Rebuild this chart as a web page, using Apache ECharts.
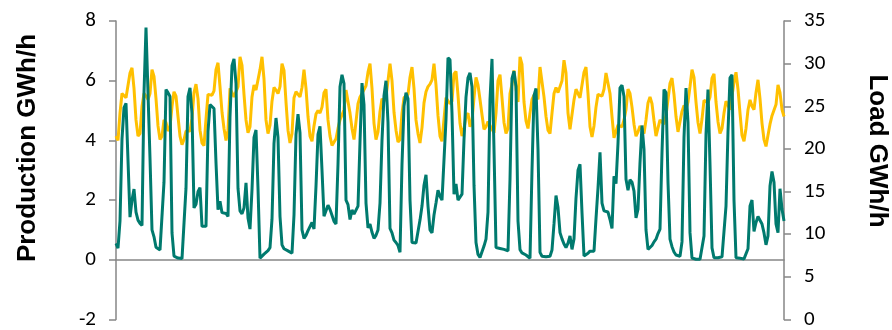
<!DOCTYPE html>
<html>
<head>
<meta charset="utf-8">
<script src="https://cdn.jsdelivr.net/npm/echarts@6/dist/echarts.min.js"></script>
<style>
html,body{margin:0;padding:0;background:#fff;}
#chart{width:892px;height:330px;}
</style>
</head>
<body>
<div id="chart"></div>
<script>
// Production (GWh/h), left axis
var production = [
0.55,0.39,1.3,4.05,5.1,5.24,5.2,1.43,2.0,2.37,
1.6,1.33,1.22,1.15,5.6,7.78,7.82,3.4,1.0,0.77,
0.42,0.39,0.33,0.28,2.6,5.7,5.6,5.47,0.9,0.12,
0.07,0.06,0.04,0.04,0.08,2.4,5.47,5.76,4.9,1.74,
1.86,2.28,2.42,1.12,1.12,1.12,4.3,5.2,5.2,5.07,
3.25,1.68,1.96,1.58,1.57,1.55,1.45,4.8,6.5,6.73,
5.9,2.4,1.64,1.54,1.74,2.58,1.4,1.03,2.35,4.1,
4.35,2.4,0.05,0.1,0.19,0.23,0.31,0.41,1.36,3.9,
4.75,4.1,1.45,0.5,0.37,0.33,0.3,0.24,0.22,1.5,
4.2,4.88,4.25,1.0,0.72,0.82,0.98,1.04,1.25,1.03,
2.47,4.2,4.47,3.0,1.46,1.5,1.83,1.69,1.69,1.29,
1.2,3.2,5.8,6.2,5.9,2.0,1.85,1.35,1.67,1.53,
1.53,1.8,3.95,5.92,5.2,1.9,1.07,1.2,0.92,0.72,
0.82,1.0,1.9,4.0,5.5,6.0,4.6,1.05,0.9,0.66,
0.58,0.48,0.25,3.2,5.15,5.6,5.4,2.0,0.58,0.57,
0.56,0.95,1.33,1.8,2.5,2.85,1.8,1.0,0.9,1.5,
1.9,2.33,2.13,2.0,1.96,4.7,6.77,6.7,4.9,2.2,
2.54,2.0,2.0,2.2,4.03,5.45,6.1,6.26,5.8,2.5,
0.58,0.18,0.08,0.1,0.46,0.69,1.6,5.37,6.73,3.7,
0.41,0.4,0.38,0.37,0.35,0.33,0.3,2.69,6.08,6.32,
5.8,1.3,0.34,0.23,0.2,0.16,0.12,0.05,3.0,5.5,
5.74,3.7,0.25,0.12,0.09,0.1,0.11,0.12,0.33,1.2,
2.15,1.75,0.91,0.7,0.53,0.41,0.56,0.8,0.35,0.7,
2.07,3.0,3.2,1.58,0.13,0.17,0.22,0.29,0.29,0.29,
1.38,2.4,3.6,1.9,1.64,1.7,1.6,1.35,1.05,2.8,
2.55,3.9,5.76,5.85,5.47,2.7,2.33,2.68,2.6,2.3,
1.4,1.7,3.25,4.5,3.7,1.0,0.35,0.33,0.48,0.6,
0.69,0.88,1.03,3.6,5.7,5.6,2.6,0.69,0.44,0.26,
0.16,0.12,0.12,0.6,4.1,5.75,4.6,0.91,0.06,0.03,
0.02,0.02,0.02,0.04,0.8,4.2,5.7,3.2,0.4,0.07,
0.07,0.07,0.08,0.1,0.11,1.8,4.3,6.1,6.2,2.0,
0.07,0.06,0.05,0.04,0.03,0.08,0.37,1.8,2.0,0.95,
1.25,1.45,1.46,1.2,0.9,0.5,0.8,2.47,2.96,2.6,
1.2,0.91,2.38,1.7,1.3
];
// Load (GWh/h), right axis
var load = [
21.5,21.0,24.2,26.5,26.5,26.0,26.2,28.9,29.5,27.1,
23.4,21.5,21.8,25.0,26.5,26.2,25.8,26.5,29.3,28.5,
25.9,22.7,21.1,21.5,23.4,23.1,22.1,22.6,25.0,26.7,
26.2,23.8,21.5,20.5,21.1,22.1,22.3,22.1,23.6,26.6,
27.6,25.9,22.2,20.7,20.4,23.5,26.4,26.4,26.3,26.8,
29.3,30.1,27.3,24.3,22.4,21.0,22.2,27.1,26.9,26.1,
26.1,27.3,30.8,29.8,26.4,23.4,21.9,22.6,26.1,27.5,
26.9,26.8,29.3,30.8,28.2,23.4,21.8,22.8,25.6,27.2,
26.9,26.5,27.3,30.0,29.2,25.5,22.2,20.7,21.8,26.0,
26.7,26.7,26.1,27.2,29.3,27.1,23.8,21.5,20.9,22.7,
24.1,24.5,24.2,24.9,26.6,27.0,23.4,21.5,20.4,20.3,
21.2,22.4,23.4,23.6,24.6,26.9,27.0,24.2,22.4,21.1,
21.2,25.3,26.1,26.5,26.7,27.4,29.0,30.0,27.1,23.0,
21.1,22.0,24.4,25.9,25.6,26.1,28.0,30.0,28.0,24.3,
22.2,20.8,21.1,24.2,26.0,26.1,26.4,28.4,29.6,27.1,
23.4,21.8,20.7,22.5,25.4,26.7,27.3,27.6,28.1,30.0,
27.5,23.9,21.5,20.9,23.5,26.0,25.8,25.3,25.6,28.8,
29.1,26.3,23.0,21.5,22.4,23.8,24.2,22.6,23.3,26.0,
28.4,27.5,25.8,24.0,22.3,22.6,23.2,23.0,22.3,21.9,
24.2,28.0,28.7,26.0,23.1,21.8,22.4,26.5,27.6,29.2,
27.1,25.5,30.8,29.9,25.5,23.3,22.4,24.2,25.8,26.3,
26.6,25.8,29.6,29.8,26.1,23.8,22.2,21.8,24.2,26.5,
27.2,26.6,26.5,28.0,30.4,28.9,24.2,22.3,22.1,25.75,
27.0,26.5,26.0,26.2,29.0,29.6,26.5,22.6,21.4,22.7,
24.9,26.4,26.3,26.2,27.0,28.9,28.9,26.5,23.8,21.3,
21.3,22.8,23.0,22.6,23.4,24.6,27.0,26.5,24.9,22.9,
21.5,22.0,22.7,22.3,21.8,23.4,25.4,26.1,25.3,23.3,
21.5,21.3,23.4,23.4,22.9,23.9,25.8,27.7,28.3,26.4,
23.8,22.0,22.2,24.4,25.1,24.6,25.5,27.3,29.3,28.4,
25.5,23.1,21.8,23.5,25.7,25.7,25.4,26.1,28.3,28.8,
25.5,23.2,21.8,22.4,24.2,25.6,25.75,24.6,24.6,27.8,
29.0,27.0,24.2,21.6,20.9,22.4,24.6,25.75,25.0,24.6,
26.6,28.1,25.9,23.0,21.1,20.3,21.6,22.9,23.9,24.0,
25.2,27.5,26.6,24.6,23.8
];
var categories = production.map(function(_, i){ return i; });
var leftTicks = {min: -2, max: 8, interval: 2};
var rightTicks = {min: 0, max: 35, interval: 5};
var leftTitle = 'Production GWh/h';
var rightTitle = 'Load GWh/h';

var axisGray = '#868686';
var labelFont = {color: '#000', fontSize: 21, fontFamily: 'Carlito, "Liberation Sans", Arial, sans-serif'};
var titleFont = 'bold 26px "Liberation Sans", Arial, sans-serif';

var chart = echarts.init(document.getElementById('chart'), null, {renderer: 'canvas'});
chart.setOption({
  animation: false,
  backgroundColor: '#fff',
  grid: {left: 116, right: 108, top: 21, bottom: 10, containLabel: false},
  xAxis: {
    type: 'category', data: categories, boundaryGap: false,
    axisLine: {show: true, onZero: true, onZeroAxisIndex: 0, lineStyle: {color: axisGray, width: 1.5}},
    axisTick: {show: false}, axisLabel: {show: false}, splitLine: {show: false}
  },
  yAxis: [{
    type: 'value', position: 'left', min: leftTicks.min, max: leftTicks.max, interval: leftTicks.interval,
    axisLine: {show: true, lineStyle: {color: axisGray, width: 1.5}},
    axisTick: {show: true, length: 7, lineStyle: {color: axisGray, width: 1.5}},
    axisLabel: Object.assign({margin: 20}, labelFont),
    splitLine: {show: false}
  }, {
    type: 'value', position: 'right', min: rightTicks.min, max: rightTicks.max, interval: rightTicks.interval,
    axisLine: {show: true, lineStyle: {color: axisGray, width: 1.5}},
    axisTick: {show: true, length: 7, lineStyle: {color: axisGray, width: 1.5}},
    axisLabel: Object.assign({margin: 20}, labelFont),
    splitLine: {show: false}
  }],
  graphic: [{
    type: 'text', x: 28, y: 148, rotation: Math.PI / 2,
    style: {text: leftTitle, font: titleFont, fill: '#000', align: 'center', verticalAlign: 'middle'}
  }, {
    type: 'text', x: 877, y: 151, rotation: -Math.PI / 2,
    style: {text: rightTitle, font: titleFont, fill: '#000', align: 'center', verticalAlign: 'middle'}
  }],
  series: [{
    name: 'Load', type: 'line', yAxisIndex: 1, data: load, symbol: 'none',
    lineStyle: {color: '#FFC000', width: 3}, itemStyle: {color: '#FFC000'}, z: 2
  }, {
    name: 'Production', type: 'line', yAxisIndex: 0, data: production, symbol: 'none',
    lineStyle: {color: '#007A6E', width: 3}, itemStyle: {color: '#007A6E'}, z: 3
  }]
});
</script>
</body>
</html>
